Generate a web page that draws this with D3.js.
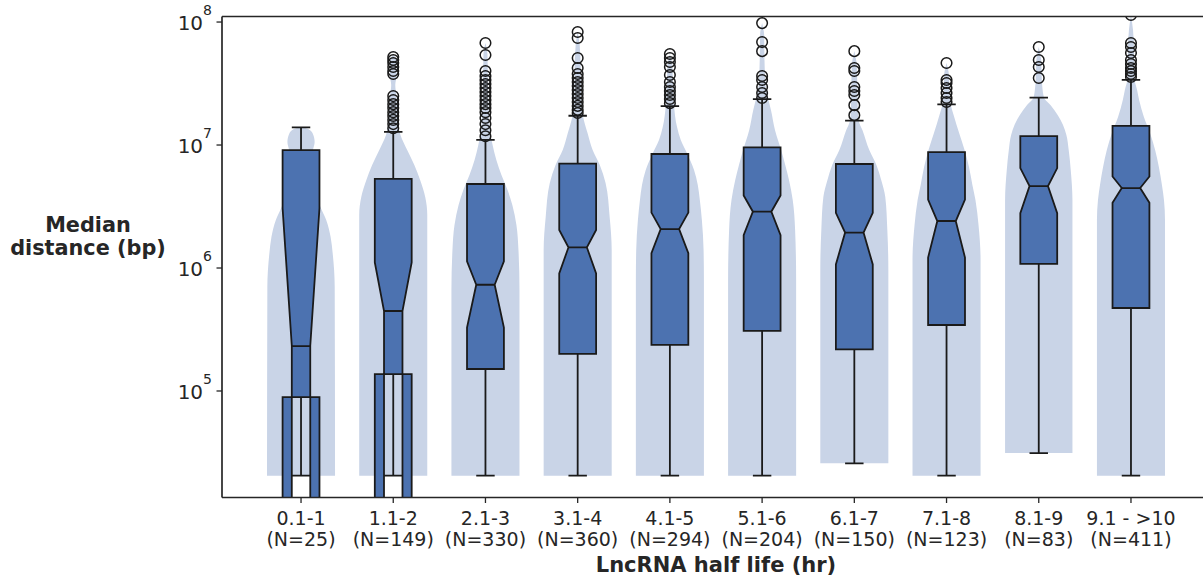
<!DOCTYPE html>
<html>
<head>
<meta charset="utf-8">
<script src="https://cdn.jsdelivr.net/npm/d3@7"></script>
<style>
  body { margin: 0; background: #fff; }
  svg { display: block; }
  text { font-family: "DejaVu Sans", sans-serif; fill: #262626; }
</style>
</head>
<body>
<svg id="chart" width="1203" height="576"></svg>
<script>
// Half-life bins and the number of lncRNAs in each
const categories = ["0.1-1", "1.1-2", "2.1-3", "3.1-4", "4.1-5", "5.1-6", "6.1-7", "7.1-8", "8.1-9", "9.1 - >10"];
const counts = [25, 149, 330, 360, 294, 204, 150, 123, 83, 411];

// Box statistics, median distance in bp
const q1 = [8.9e4, 1.37e5, 1.51e5, 2.0e5, 2.37e5, 3.08e5, 2.18e5, 3.44e5, 1.08e6, 4.73e5];
const medians = [2.32e5, 4.47e5, 7.31e5, 1.47e6, 2.07e6, 2.87e6, 1.94e6, 2.41e6, 4.64e6, 4.47e6];
const q3 = [9.1e6, 5.30e6, 4.82e6, 7.05e6, 8.45e6, 9.57e6, 7.01e6, 8.77e6, 1.18e7, 1.43e7];
const whiskerLow = [2.05e4, 2.05e4, 2.05e4, 2.05e4, 2.05e4, 2.05e4, 2.58e4, 2.05e4, 3.13e4, 2.05e4];
const whiskerHigh = [1.39e7, 1.28e7, 1.10e7, 1.73e7, 2.07e7, 2.36e7, 1.58e7, 2.14e7, 2.43e7, 3.38e7];

// Points beyond the upper whisker
const outliers = [
  [],
  [5.19e7, 4.91e7, 4.64e7, 4.31e7, 4.0e7, 3.78e7, 2.50e7, 2.32e7, 2.15e7, 2.0e7, 1.85e7, 1.72e7, 1.60e7, 1.48e7, 1.37e7],
  [6.75e7, 5.39e7, 4.0e7, 3.64e7, 3.38e7, 3.13e7, 2.91e7, 2.70e7, 2.50e7, 2.32e7, 2.15e7, 2.0e7, 1.85e7, 1.66e7, 1.48e7, 1.32e7, 1.18e7],
  [8.3e7, 7.42e7, 5.1e7, 4.23e7, 3.78e7, 3.51e7, 3.25e7, 3.02e7, 2.80e7, 2.60e7, 2.41e7, 2.24e7, 2.08e7, 1.93e7, 1.82e7],
  [5.5e7, 5.1e7, 4.73e7, 4.31e7, 3.71e7, 3.25e7, 2.96e7, 2.75e7, 2.55e7, 2.37e7, 2.19e7],
  [9.8e7, 6.87e7, 5.8e7, 3.64e7, 3.38e7, 2.96e7, 2.65e7, 2.41e7],
  [5.8e7, 4.23e7, 4.0e7, 2.96e7, 2.75e7, 2.55e7, 2.11e7, 1.75e7],
  [4.64e7, 3.38e7, 3.19e7, 2.91e7, 2.65e7, 2.41e7, 2.24e7],
  [6.27e7, 4.91e7, 4.31e7, 3.51e7],
  [1.14e8, 6.75e7, 6.27e7, 5.6e7, 4.91e7, 4.56e7, 4.23e7, 4.0e7, 3.78e7, 3.57e7]
];

// Violin outlines: [distance in bp, relative density]
const violinProfiles = [
  [[1.40e7, 0], [1.35e7, 0.21], [1.23e7, 0.35], [1.06e7, 0.40], [9.1e6, 0.35], [7.55e6, 0.31], [6.03e6, 0.32], [4.31e6, 0.41], [3.13e6, 0.57], [2.46e6, 0.74], [1.79e6, 0.87], [1.32e6, 0.93], [7.0e5, 0.99], [2.05e4, 1]],
  [[5.40e7, 0], [4.91e7, 0.10], [3.71e7, 0.10], [3.08e7, 0.06], [2.55e7, 0.09], [1.93e7, 0.12], [1.46e7, 0.15], [1.21e7, 0.21], [9.1e6, 0.41], [6.87e6, 0.62], [5.19e6, 0.79], [3.78e6, 0.94], [2.70e6, 1], [2.05e4, 1]],
  [[6.75e7, 0], [5.40e7, 0.06], [3.38e7, 0.07], [2.11e7, 0.09], [1.32e7, 0.13], [1.0e7, 0.21], [7.55e6, 0.32], [5.70e6, 0.47], [4.31e6, 0.65], [3.25e6, 0.79], [2.24e6, 0.91], [1.40e6, 0.97], [6.62e5, 1], [2.05e4, 1]],
  [[8.30e7, 0], [6.50e7, 0.06], [4.07e7, 0.09], [2.32e7, 0.10], [1.75e7, 0.15], [1.25e7, 0.29], [9.1e6, 0.44], [6.87e6, 0.65], [4.91e6, 0.82], [2.60e6, 0.94], [1.40e6, 1], [2.05e4, 1]],
  [[5.50e7, 0], [4.47e7, 0.07], [3.08e7, 0.09], [2.11e7, 0.12], [1.40e7, 0.21], [1.10e7, 0.32], [8.61e6, 0.50], [6.27e6, 0.71], [4.73e6, 0.82], [3.57e6, 0.88], [2.46e6, 0.94], [1.40e6, 0.99], [7.98e5, 1], [2.05e4, 1]],
  [[9.82e7, 0], [7.83e7, 0.06], [4.91e7, 0.07], [3.08e7, 0.10], [2.37e7, 0.18], [1.93e7, 0.26], [1.32e7, 0.38], [9.1e6, 0.56], [6.87e6, 0.68], [5.19e6, 0.79], [3.57e6, 0.90], [2.04e6, 0.97], [7.98e5, 1], [2.05e4, 1]],
  [[5.81e7, 0], [4.47e7, 0.07], [2.80e7, 0.09], [1.93e7, 0.10], [1.57e7, 0.13], [1.32e7, 0.24], [9.1e6, 0.44], [6.87e6, 0.65], [5.19e6, 0.79], [3.78e6, 0.91], [2.04e6, 0.97], [9.64e5, 1], [2.58e4, 1]],
  [[4.64e7, 0], [3.71e7, 0.07], [2.55e7, 0.09], [2.15e7, 0.12], [1.75e7, 0.21], [1.25e7, 0.37], [9.1e6, 0.53], [6.62e6, 0.66], [4.73e6, 0.76], [3.57e6, 0.85], [2.24e6, 0.94], [1.16e6, 1], [2.05e4, 1]],
  [[6.27e7, 0], [4.91e7, 0.07], [3.38e7, 0.09], [2.45e7, 0.15], [2.11e7, 0.35], [1.75e7, 0.56], [1.46e7, 0.71], [1.21e7, 0.81], [9.1e6, 0.88], [6.27e6, 0.94], [3.57e6, 0.99], [3.13e4, 0.99]],
  [[1.14e8, 0], [8.61e7, 0.06], [5.91e7, 0.09], [3.51e7, 0.10], [2.80e7, 0.18], [2.32e7, 0.24], [1.69e7, 0.38], [1.25e7, 0.56], [9.1e6, 0.71], [6.62e6, 0.82], [4.73e6, 0.91], [3.57e6, 0.97], [2.46e6, 1], [2.05e4, 1]]
];

const yTicks = [1e5, 1e6, 1e7, 1e8];
const xTitle = "LncRNA half life (hr)";
const yTitle = ["Median", "distance (bp)"];

// ---- layout ----
const plot = { left: 222, right: 1210, top: 16.5, bottom: 497.5 };
const boxColor = "#4C72B0";
const violinColor = "#c9d4e7";
const ink = "#1a1a1a";

const svg = d3.select("#chart");

const x = d3.scaleLinear().domain([-0.857, 9.857]).range([plot.left, plot.right]);
const y = d3.scaleLog().domain([Math.pow(10, 4.134), Math.pow(10, 8.045)]).range([plot.bottom, plot.top]);

const boxW = x(0.4) - x(0);
const violinHalf = x(0.369) - x(0);
// non-positive values on a log axis fall far below the plot
const Y = v => (v > 0 ? y(v) : 1e5);

svg.append("defs").append("clipPath").attr("id", "plot-clip")
  .append("rect")
  .attr("x", plot.left).attr("y", plot.top)
  .attr("width", plot.right - plot.left).attr("height", plot.bottom - plot.top);

const g = svg.append("g").attr("clip-path", "url(#plot-clip)");

// violins
const violinArea = (i) => d3.area()
  .y(d => y(d[0]))
  .x0(d => x(i) - d[1] * violinHalf)
  .x1(d => x(i) + d[1] * violinHalf)
  .curve(d3.curveMonotoneY);

g.append("g").selectAll("path")
  .data(violinProfiles)
  .join("path")
  .attr("d", (p, i) => violinArea(i)(p.slice().sort((a, b) => b[0] - a[0])))
  .attr("fill", violinColor)
  .attr("stroke", "none");

// boxes
const boxes = g.append("g");
categories.forEach((c, i) => {
  const cx = x(i), hw = boxW / 2, qw = boxW / 4;
  const ci = 1.57 * (q3[i] - q1[i]) / Math.sqrt(counts[i]);
  const hi = medians[i] + ci, lo = medians[i] - ci;
  const grp = boxes.append("g");

  // whiskers
  grp.append("line").attr("x1", cx).attr("x2", cx)
    .attr("y1", y(q1[i])).attr("y2", y(whiskerLow[i]))
    .attr("stroke", ink).attr("stroke-width", 1.8);
  grp.append("line").attr("x1", cx).attr("x2", cx)
    .attr("y1", y(q3[i])).attr("y2", y(whiskerHigh[i]))
    .attr("stroke", ink).attr("stroke-width", 1.8);
  // caps
  [whiskerLow[i], whiskerHigh[i]].forEach(v => {
    grp.append("line").attr("x1", cx - qw).attr("x2", cx + qw)
      .attr("y1", y(v)).attr("y2", y(v))
      .attr("stroke", ink).attr("stroke-width", 1.8);
  });

  // notched box outline
  const pts = [
    [cx - hw, Y(q1[i])], [cx + hw, Y(q1[i])], [cx + hw, Y(lo)], [cx + qw, Y(medians[i])],
    [cx + hw, Y(hi)], [cx + hw, Y(q3[i])], [cx - hw, Y(q3[i])], [cx - hw, Y(hi)],
    [cx - qw, Y(medians[i])], [cx - hw, Y(lo)]
  ];
  grp.append("path")
    .attr("d", d3.line()(pts) + "Z")
    .attr("fill", boxColor)
    .attr("stroke", ink).attr("stroke-width", 1.8)
    .attr("stroke-linejoin", "miter");

  // median
  grp.append("line").attr("x1", cx - qw).attr("x2", cx + qw)
    .attr("y1", y(medians[i])).attr("y2", y(medians[i]))
    .attr("stroke", ink).attr("stroke-width", 1.8);

  // fliers
  grp.selectAll("circle").data(outliers[i]).join("circle")
    .attr("cx", cx).attr("cy", d => y(d)).attr("r", 5.3)
    .attr("fill", "none").attr("stroke", ink).attr("stroke-width", 1.5);
});

// spines
const spine = svg.append("g").attr("stroke", "#262626").attr("stroke-width", 1.7).attr("fill", "none");
spine.append("line").attr("x1", plot.left).attr("x2", plot.left).attr("y1", plot.top).attr("y2", plot.bottom);
spine.append("line").attr("x1", plot.left).attr("x2", 1203 + 5).attr("y1", plot.bottom).attr("y2", plot.bottom);
spine.append("line").attr("x1", plot.left).attr("x2", 1203 + 5).attr("y1", plot.top).attr("y2", plot.top);

// y axis ticks and labels
const yAxis = svg.append("g");
yTicks.forEach(t => {
  const ty = y(t);
  yAxis.append("line").attr("x1", plot.left - 5.5).attr("x2", plot.left)
    .attr("y1", ty).attr("y2", ty).attr("stroke", "#262626").attr("stroke-width", 1.3);
  const txt = yAxis.append("text").attr("x", plot.left - 10).attr("y", ty + 8)
    .attr("text-anchor", "end").style("font-size", "20px");
  txt.append("tspan").text("10");
  txt.append("tspan").attr("dy", -15).style("font-size", "14px").text(String(Math.round(Math.log10(t))));
});

// x axis ticks and labels
const xAxis = svg.append("g");
categories.forEach((c, i) => {
  const tx = x(i);
  xAxis.append("line").attr("x1", tx).attr("x2", tx)
    .attr("y1", plot.bottom).attr("y2", plot.bottom + 5.5)
    .attr("stroke", "#262626").attr("stroke-width", 1.3);
  const txt = xAxis.append("text").attr("text-anchor", "middle").style("font-size", "19px");
  txt.append("tspan").attr("x", tx).attr("y", 525).text(c);
  txt.append("tspan").attr("x", tx).attr("y", 545.5).text(`(N=${counts[i]})`);
});

// axis titles
svg.append("text").attr("x", (plot.left + plot.right) / 2).attr("y", 571.5)
  .attr("text-anchor", "middle").style("font-size", "21px").style("font-weight", "bold")
  .text(xTitle);

const yt = svg.append("text").attr("text-anchor", "middle")
  .style("font-size", "20.8px").style("font-weight", "bold");
yTitle.forEach((line, k) => {
  yt.append("tspan").attr("x", 88).attr("y", 231.5 + k * 23.5).text(line);
});
</script>
</body>
</html>
